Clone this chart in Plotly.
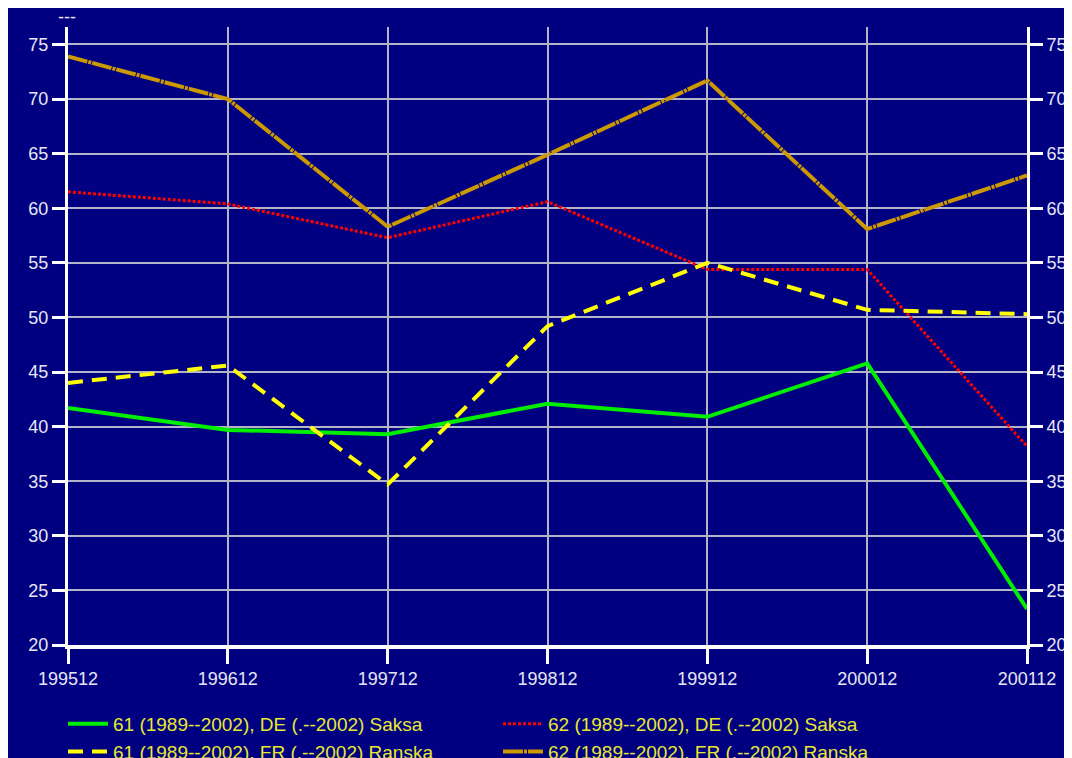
import plotly.graph_objects as go

periods = ["199512", "199612", "199712", "199812", "199912", "200012", "200112"]
de_61 = [41.7, 39.7, 39.3, 42.1, 40.9, 45.8, 23.3]
de_62 = [61.5, 60.4, 57.3, 60.6, 54.4, 54.4, 38.2]
fr_61 = [44.0, 45.6, 34.7, 49.2, 55.0, 50.7, 50.3]
fr_62 = [73.9, 70.0, 58.3, 64.9, 71.7, 58.1, 63.0]

names = [
    "61 (1989--2002), DE (.--2002) Saksa",
    "62 (1989--2002), DE (.--2002) Saksa",
    "61 (1989--2002), FR (.--2002) Ranska",
    "62 (1989--2002), FR (.--2002) Ranska",
]
series = [de_61, de_62, fr_61, fr_62]
colors = ["#00EE00", "#FF0000", "#FFFF00", "#CC9900"]
dashes = ["solid", "3px,2px", "15px,9px", "20px,1px,3px,1px"]
widths = [4, 3, 4, 4]

fig = go.Figure()
for nm, vals, c, d, w in zip(names, series, colors, dashes, widths):
    fig.add_trace(go.Scatter(x=periods, y=vals, name=nm, mode="lines",
                             line=dict(color=c, dash=d, width=w)))
# invisible trace for right axis
fig.add_trace(go.Scatter(x=periods, y=de_61, yaxis="y2", mode="lines",
                         line=dict(width=0), showlegend=False, hoverinfo="skip"))

W, H = 1072, 758
L, R, T, B = 60, 53, 19, 121
pw = W - L - R
ph = H - T - B
yr = [20, 76.6]
yticks = [20, 25, 30, 35, 40, 45, 50, 55, 60, 65, 70, 75]

tickfont = dict(family="Liberation Sans, Arial", size=18, color="#E6E6F6")

fig.update_layout(
    width=W, height=H,
    margin=dict(l=L, r=R, t=T, b=B, autoexpand=False),
    paper_bgcolor="#000080",
    plot_bgcolor="#000080",
    showlegend=True,
    legend=dict(
        orientation="h",
        x=(55 - L) / pw, xanchor="left",
        y=-(697 - (H - B)) / ph, yanchor="top",
        entrywidth=380, entrywidthmode="pixels",
        font=dict(family="Liberation Sans, Arial", size=19, color="#E8E830"),
        bgcolor="rgba(0,0,0,0)",
        tracegroupgap=0,
        itemwidth=40,
    ),
    xaxis=dict(
        type="category", range=[0, 6],
        showgrid=True, gridcolor="#B4B4C8", gridwidth=1.5,
        showline=True, linecolor="white", linewidth=3.5,
        ticks="outside", ticklen=15, tickwidth=3, tickcolor="white",
        tickfont=tickfont,
        zeroline=False,
    ),
    yaxis=dict(
        range=yr, tickvals=yticks,
        showgrid=True, gridcolor="#B4B4C8", gridwidth=1.5,
        showline=True, linecolor="white", linewidth=3,
        ticks="outside", ticklen=13, tickwidth=3, tickcolor="white",
        tickfont=tickfont, zeroline=False,
    ),
    yaxis2=dict(
        range=yr, tickvals=yticks,
        overlaying="y", side="right", showgrid=False,
        showline=True, linecolor="white", linewidth=3,
        ticks="outside", ticklen=13, tickwidth=3, tickcolor="white",
        tickfont=tickfont, zeroline=False,
    ),
)

fig.add_annotation(text="---", xref="paper", yref="paper",
                   x=(59 - L) / pw, y=(H - B - 9) / ph,
                   xanchor="center", yanchor="middle",
                   showarrow=False,
                   font=dict(family="Liberation Sans, Arial", size=18, color="#E6E6F6"))

fig.write_html("out.html")
